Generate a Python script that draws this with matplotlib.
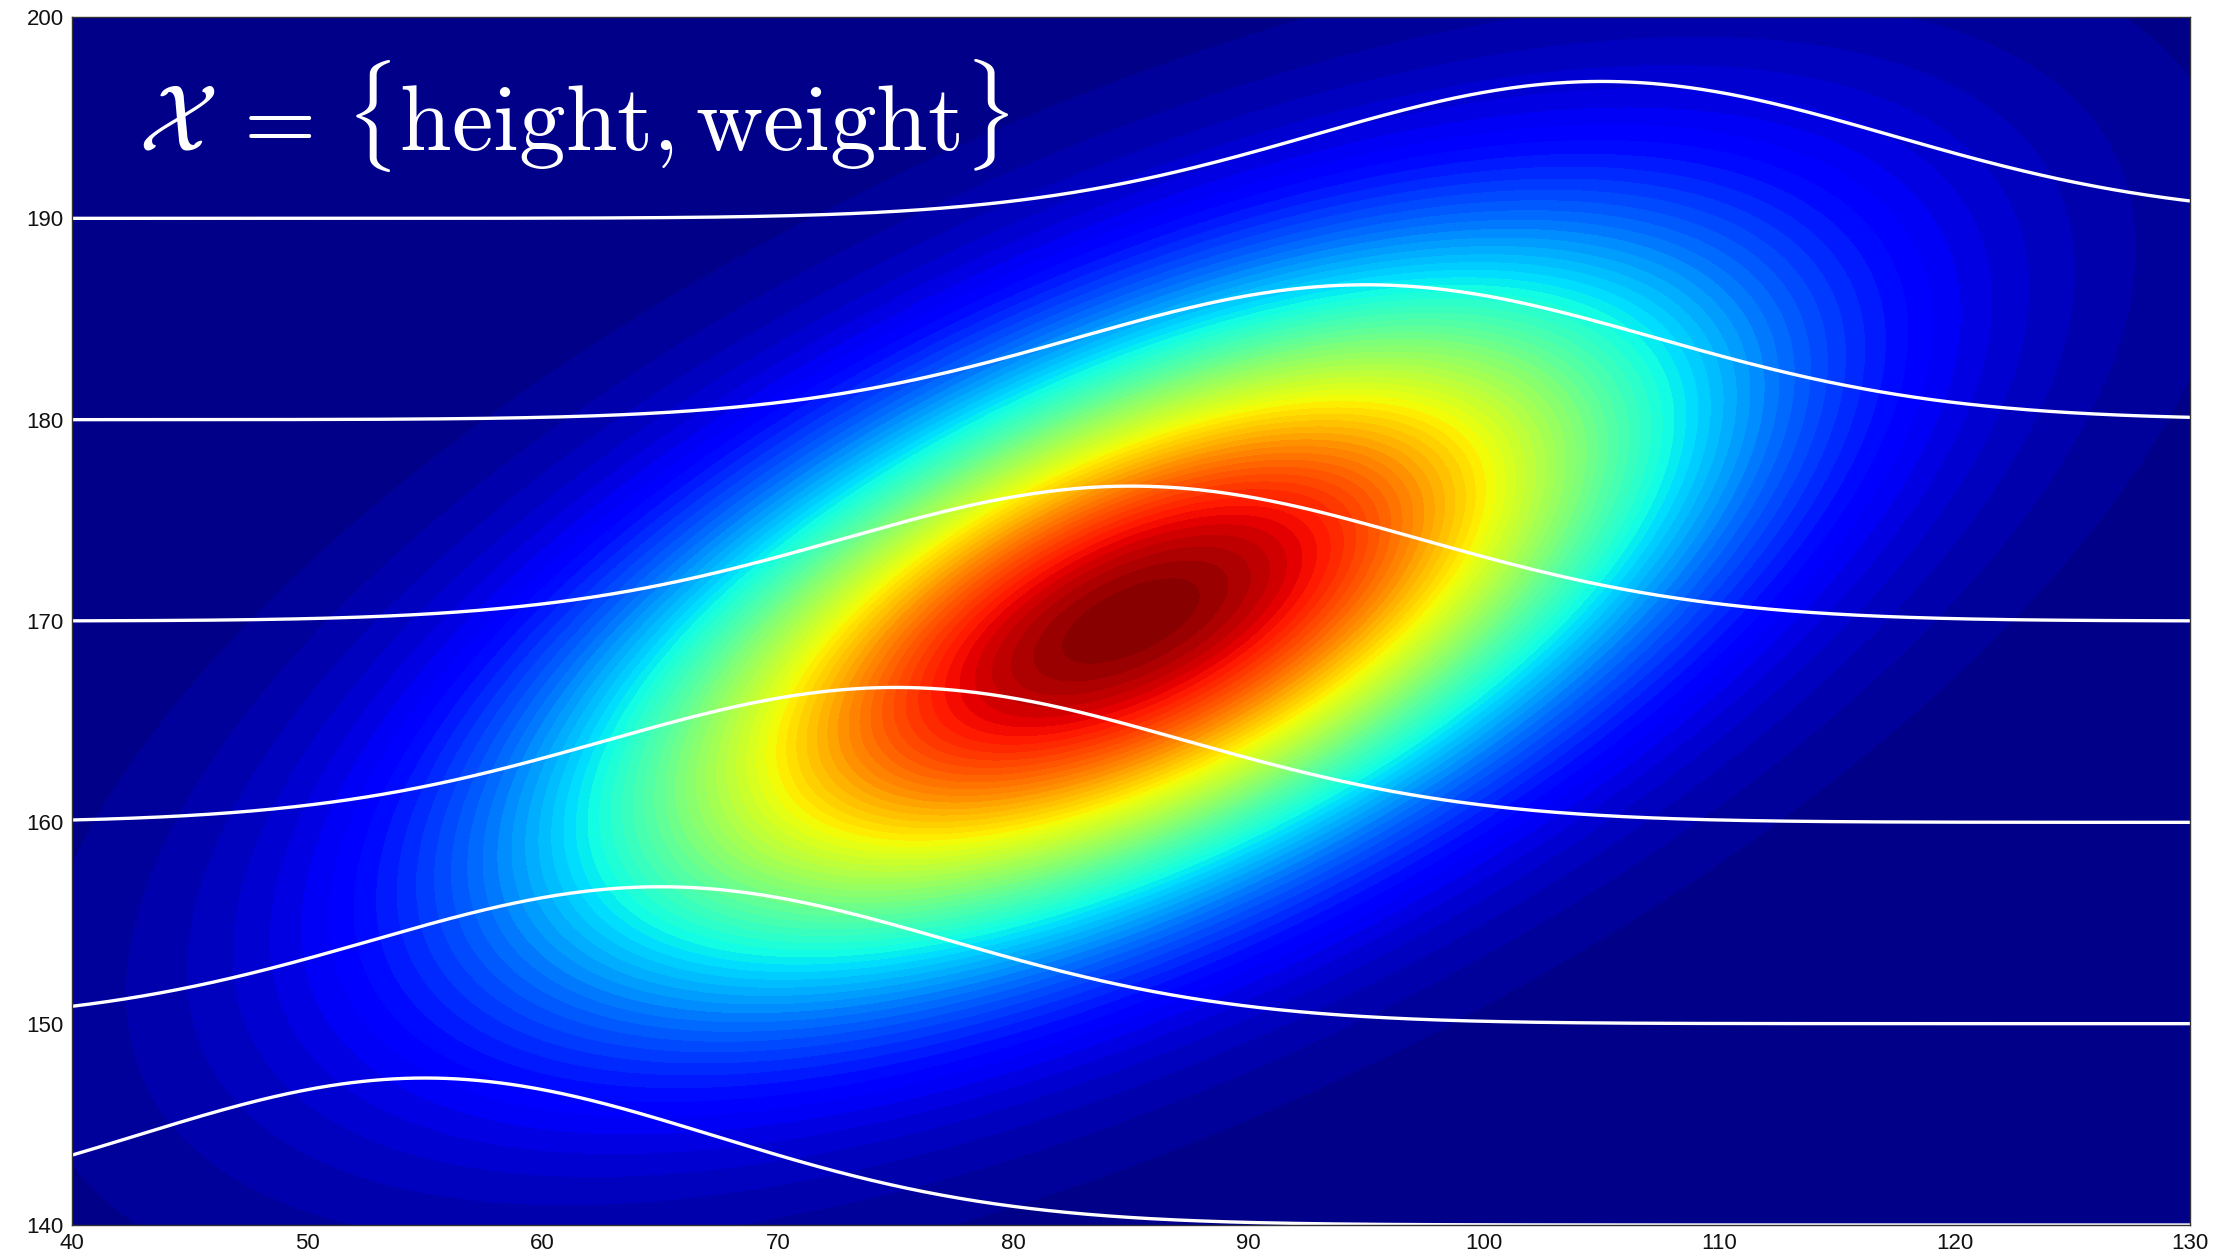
import numpy as np
import matplotlib
matplotlib.use("Agg")
import matplotlib.pyplot as plt

# ---- data ----
weight_range = [40, 130]          # x axis (weight)
height_range = [140, 200]         # y axis (height)
x_ticks = [40, 50, 60, 70, 80, 90, 100, 110, 120, 130]
y_ticks = [140, 150, 160, 170, 180, 190, 200]

# joint Gaussian of weight / height (heat map)
mean_weight = 85.0
mean_height = 170.0
sd_weight = 16.25
sd_height = 11.75
rho = 0.6

# conditional curves p(weight | height), drawn on their height baseline
curve_baselines = [140, 150, 160, 170, 180, 190]
curve_peak_weight = [55, 65, 75, 85, 95, 105]
curve_amplitude = [7.3, 6.8, 6.7, 6.7, 6.7, 6.8]
curve_sd = 12.3

title_text = r"$\mathcal{X}\;=\,\{\mathrm{height}, \mathrm{weight}\}$"

# ---- figure ----
plt.rcParams["mathtext.fontset"] = "cm"
fig = plt.figure(figsize=(22.23, 12.57), dpi=100)
ax = fig.add_axes([72 / 2223, 1 - 1225 / 1257, (2190 - 72) / 2223, (1225 - 17) / 1257])

xg = np.linspace(weight_range[0], weight_range[1], 500)
yg = np.linspace(height_range[0], height_range[1], 350)
X, Y = np.meshgrid(xg, yg)
zx = (X - mean_weight) / sd_weight
zy = (Y - mean_height) / sd_height
Z = np.exp(-(zx ** 2 - 2 * rho * zx * zy + zy ** 2) / (2 * (1 - rho ** 2)))

ax.contourf(X, Y, Z, levels=np.linspace(Z.min(), Z.max() * 1.0001, 64), cmap="jet")

xc = np.linspace(weight_range[0], weight_range[1], 600)
for base, peak, amp in zip(curve_baselines, curve_peak_weight, curve_amplitude):
    yc = base + amp * np.exp(-(xc - peak) ** 2 / (2 * curve_sd ** 2))
    ax.plot(xc, yc, color="white", lw=2.4, solid_capstyle="butt", clip_on=True)

ax.set_xlim(weight_range)
ax.set_ylim(height_range)
ax.set_xticks(x_ticks)
ax.set_yticks(y_ticks)
ax.set_xticklabels([str(t) for t in x_ticks])
ax.set_yticklabels([str(t) for t in y_ticks])
ax.tick_params(axis="both", length=0, pad=6, labelsize=16, labelcolor="#111111")
for lab in ax.get_xticklabels() + ax.get_yticklabels():
    lab.set_fontfamily("Liberation Sans")
for s in ax.spines.values():
    s.set_color("#333333")
    s.set_linewidth(1.0)

ax.text(42.8, 193.4, title_text, color="white", fontsize=67, va="baseline", ha="left")

fig.savefig("out.png", dpi=100)
